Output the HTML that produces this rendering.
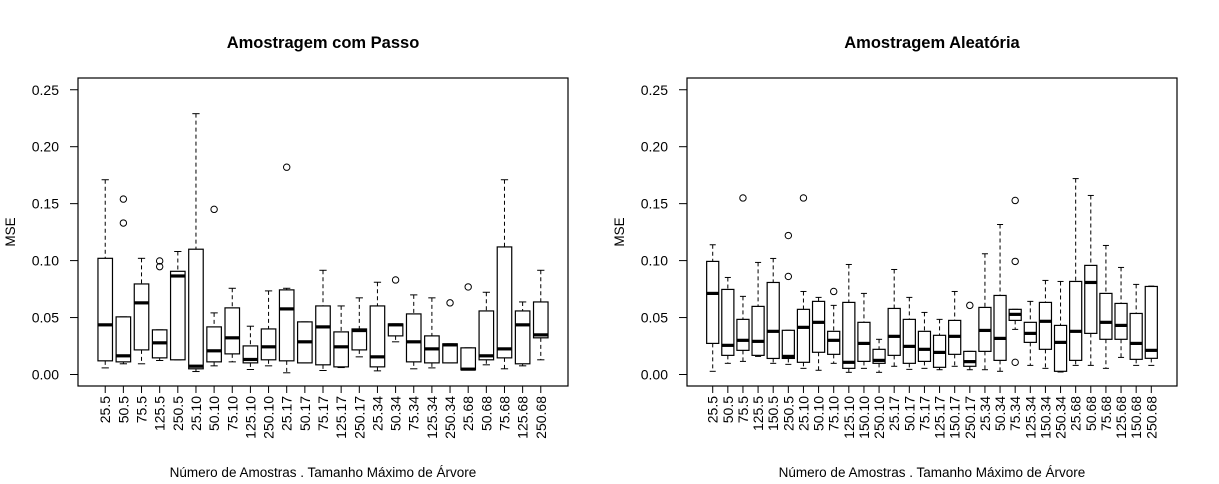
<!DOCTYPE html>
<html><head><meta charset="utf-8"><style>
html,body{margin:0;padding:0;background:#fff;}
svg{display:block;font-family:"Liberation Sans",Arial,sans-serif;}
</style></head><body>
<svg id="chart" width="1219" height="484" viewBox="0 0 1219 484" xmlns="http://www.w3.org/2000/svg"></svg>
<script>
// Left panel: Amostragem com Passo
const leftCategories = ["25.5","50.5","75.5","125.5","250.5","25.10","50.10","75.10","125.10","250.10","25.17","50.17","75.17","125.17","250.17","25.34","50.34","75.34","125.34","250.34","25.68","50.68","75.68","125.68","250.68"];
const leftLow  = [0.0058,0.0094,0.0094,0.0123,0.0129,0.0026,0.0076,0.0111,0.0044,0.0076,0.0015,0.0102,0.0035,0.0061,0.0155,0.0032,0.0287,0.0050,0.0058,0.0102,0.0041,0.0085,0.0050,0.0076,0.0129];
const leftQ1   = [0.0120,0.0111,0.0216,0.0146,0.0129,0.0050,0.0111,0.0181,0.0102,0.0129,0.0120,0.0102,0.0085,0.0067,0.0216,0.0067,0.0339,0.0111,0.0102,0.0102,0.0041,0.0129,0.0146,0.0094,0.0322];
const leftMed  = [0.0436,0.0164,0.0629,0.0278,0.0865,0.0073,0.0208,0.0322,0.0132,0.0243,0.0576,0.0287,0.0418,0.0243,0.0386,0.0155,0.0436,0.0287,0.0225,0.0260,0.0047,0.0164,0.0225,0.0436,0.0348];
const leftQ3   = [0.1020,0.0506,0.0795,0.0392,0.0906,0.1100,0.0418,0.0585,0.0251,0.0400,0.0743,0.0462,0.0602,0.0374,0.0400,0.0602,0.0444,0.0532,0.0339,0.0269,0.0234,0.0558,0.1120,0.0558,0.0637];
const leftHigh = [0.1710,0.0506,0.1020,0.0392,0.1080,0.2290,0.0541,0.0757,0.0424,0.0734,0.0757,0.0462,0.0915,0.0602,0.0673,0.0810,0.0444,0.0699,0.0673,0.0269,0.0234,0.0722,0.1710,0.0637,0.0915];
const leftOutliers = [[],[0.154,0.133],[],[0.0997,0.0947],[],[],[0.145],[],[],[],[0.182],[],[],[],[],[],[0.083],[],[],[0.0629],[0.0769],[],[],[],[]];

// Right panel: Amostragem Aleatória
const rightCategories = ["25.5","50.5","75.5","125.5","150.5","250.5","25.10","50.10","75.10","125.10","150.10","250.10","25.17","50.17","75.17","125.17","150.17","250.17","25.34","50.34","75.34","125.34","150.34","250.34","25.68","50.68","75.68","125.68","150.68","250.68"];
const rightLow  = [0.0028,0.0098,0.0115,0.0159,0.0098,0.0089,0.0054,0.0037,0.0098,0.0019,0.0054,0.0019,0.0072,0.0045,0.0054,0.0042,0.0072,0.0042,0.0042,0.0028,0.0396,0.0080,0.0054,0.0022,0.0080,0.0080,0.0054,0.0150,0.0080,0.0080];
const rightQ1   = [0.0273,0.0168,0.0212,0.0168,0.0141,0.0141,0.0107,0.0195,0.0177,0.0054,0.0115,0.0098,0.0168,0.0098,0.0115,0.0063,0.0177,0.0072,0.0203,0.0124,0.0475,0.0282,0.0221,0.0028,0.0124,0.0361,0.0309,0.0309,0.0133,0.0142];
const rightMed  = [0.0712,0.0256,0.0300,0.0291,0.0379,0.0159,0.0414,0.0458,0.0300,0.0107,0.0273,0.0124,0.0335,0.0247,0.0221,0.0194,0.0335,0.0113,0.0387,0.0317,0.0528,0.0361,0.0467,0.0282,0.0379,0.0808,0.0458,0.0431,0.0273,0.0212];
const rightQ3   = [0.0993,0.0747,0.0484,0.0598,0.0808,0.0388,0.0572,0.0642,0.0379,0.0633,0.0458,0.0221,0.0580,0.0484,0.0379,0.0344,0.0475,0.0203,0.0589,0.0694,0.0572,0.0458,0.0633,0.0431,0.0817,0.0958,0.0712,0.0624,0.0536,0.0773];
const rightHigh = [0.1139,0.0852,0.0686,0.0984,0.1019,0.0388,0.0729,0.0677,0.0607,0.0966,0.0712,0.0309,0.0922,0.0677,0.0545,0.0484,0.0729,0.0203,0.1060,0.1317,0.0572,0.0642,0.0826,0.0817,0.1720,0.1572,0.1133,0.0940,0.0791,0.0776];
const rightOutliers = [[],[],[0.155],[],[],[0.122,0.0861],[0.155],[],[0.0729],[],[],[],[],[],[],[],[],[0.0607],[],[],[0.1528,0.0993,0.0107],[],[],[],[],[],[],[],[],[]];

const yTicks = [0,0.05,0.10,0.15,0.20,0.25];
const yTickLabels = ["0.00","0.05","0.10","0.15","0.20","0.25"];

const NS="http://www.w3.org/2000/svg";
const svg=document.getElementById('chart');
function mk(tag,attrs,parent){const e=document.createElementNS(NS,tag);for(const k in attrs)e.setAttribute(k,attrs[k]);(parent||svg).appendChild(e);return e;}

function panel(px,title,cats,low,q1,med,q3,high,outl,name){
  const g=mk('g',{});
  
  
  const L=px, R=px+490, T=78, B=386;
  const y=v=>374.5-(v*1139);
  const n=cats.length;
  const unit=490/(n+2.4*n/25*0+ (n*1.08+0.0) - n + n);
  // R xlim: [0.5-0.04n, n+0.5+0.04n]
  const x0=0.5-0.04*n, x1=n+0.5+0.04*n;
  const x=i=>L+(i+1-x0)/(x1-x0)*490;
  const bw=0.8*490/(x1-x0)*0.5/0.5*0.5;
  const t=mk('text',{x:(L+R)/2,y:48,'text-anchor':'middle','font-size':'16.5','font-weight':'bold'},g);
  t.textContent=title;
  
  
  const frame=mk('rect',{x:L,y:T,width:490,height:B-T,fill:'none',stroke:'#000','stroke-width':1.2},g);
  
  
  yTicks.forEach((v,i)=>{
    const yy=y(v);
    mk('line',{x1:L-8,x2:L,y1:yy,y2:yy,stroke:'#000','stroke-width':1},g);
    const tl=mk('text',{x:L-19,y:yy+5,'text-anchor':'end','font-size':'14'},g);
    tl.textContent=yTickLabels[i];
    
    
  });
  const yt=mk('text',{x:0,y:0,'text-anchor':'middle','font-size':'13.5',transform:`translate(${L-63},${(T+B)/2}) rotate(-90)`},g);
  yt.textContent='MSE';
  
  
  const xt=mk('text',{x:(L+R)/2,y:477,'text-anchor':'middle','font-size':'13.5'},g);
  xt.textContent='Número de Amostras . Tamanho Máximo de Árvore';
  
  
  const half=0.4*490/(x1-x0);
  cats.forEach((c,i)=>{
    const cx=x(i);
    mk('line',{x1:cx,x2:cx,y1:B,y2:B+7,stroke:'#000','stroke-width':1},g);
    const lb=mk('text',{x:0,y:0,'text-anchor':'end','font-size':'14',transform:`translate(${cx+5},${B+10}) rotate(-90)`},g);
    lb.textContent=c;
    
    
    const bg=mk('g',{},g);
    
    
    const dash={stroke:'#000','stroke-width':1,'stroke-dasharray':'4,3'};
    if(high[i]>q3[i]+1e-6) mk('line',Object.assign({x1:cx,x2:cx,y1:y(high[i]),y2:y(q3[i])},dash),bg);
    if(low[i]<q1[i]-1e-6) mk('line',Object.assign({x1:cx,x2:cx,y1:y(q1[i]),y2:y(low[i])},dash),bg);
    mk('line',{x1:cx-half/2,x2:cx+half/2,y1:y(high[i]),y2:y(high[i]),stroke:'#000','stroke-width':1},bg);
    mk('line',{x1:cx-half/2,x2:cx+half/2,y1:y(low[i]),y2:y(low[i]),stroke:'#000','stroke-width':1},bg);
    mk('rect',{x:cx-half,y:y(q3[i]),width:2*half,height:Math.max(0.5,y(q1[i])-y(q3[i])),fill:'#fff',stroke:'#000','stroke-width':1.2},bg);
    mk('line',{x1:cx-half,x2:cx+half,y1:y(med[i]),y2:y(med[i]),stroke:'#000','stroke-width':3.2},bg);
    outl[i].forEach(o=>{
      const c2=mk('circle',{cx:cx,cy:y(o),r:3.2,fill:'none',stroke:'#000','stroke-width':1},bg);
      
      
    });
  });
}
panel(78,'Amostragem com Passo',leftCategories,leftLow,leftQ1,leftMed,leftQ3,leftHigh,leftOutliers,'left-panel-passo');
panel(687,'Amostragem Aleatória',rightCategories,rightLow,rightQ1,rightMed,rightQ3,rightHigh,rightOutliers,'right-panel-aleatoria');
</script>
</body></html>
